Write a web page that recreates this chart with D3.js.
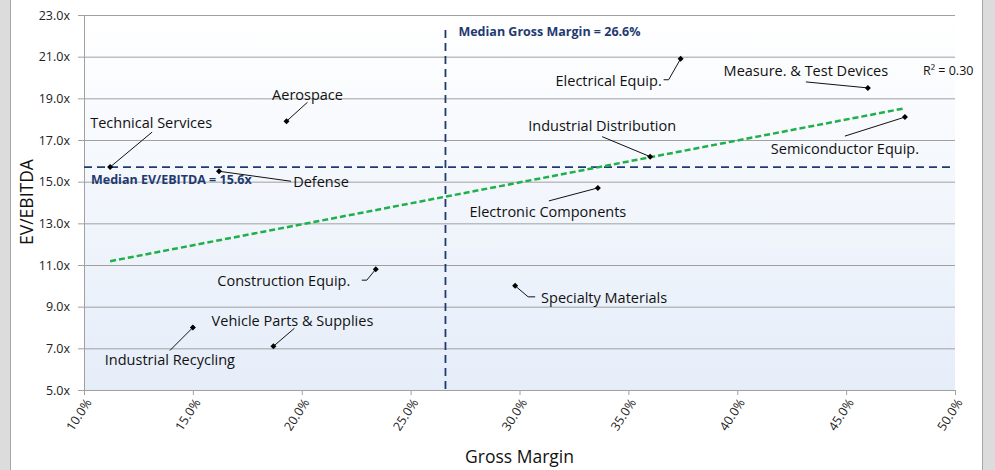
<!DOCTYPE html>
<html>
<head>
<meta charset="utf-8">
<script src="https://cdn.jsdelivr.net/npm/d3@7"></script>
<style>
  body { margin: 0; background: #fff; }
  text { font-family: "Open Sans", sans-serif; }
</style>
</head>
<body>
<svg width="995" height="470"></svg>
<script>
// sectors, gross margin (%) and EV/EBITDA (x)
var sectors = ["Technical Services", "Aerospace", "Defense", "Electrical Equip.",
  "Measure. & Test Devices", "Semiconductor Equip.", "Industrial Distribution",
  "Electronic Components", "Construction Equip.", "Specialty Materials",
  "Vehicle Parts & Supplies", "Industrial Recycling"];
var grossMargin = [11.2, 19.3, 16.2, 37.4, 46.0, 47.7, 36.0, 33.6, 23.4, 29.8, 18.7, 15.0];
var evEbitda = [15.7, 17.9, 15.5, 20.9, 19.5, 18.1, 16.2, 14.7, 10.8, 10.0, 7.1, 8.0];
var xTicks = [10, 15, 20, 25, 30, 35, 40, 45, 50];
var yTicks = [5, 7, 9, 11, 13, 15, 17, 19, 21, 23];
var medianGM = 26.6, medianEV = 15.6;

// label placement, pixel offsets from the point: text centre and leader path
var labelLayout = [
  { t: [41, -44], l: [[42, -35]] },
  { t: [21, -26], l: [[21, -19]] },
  { t: [102, 11], l: [[72, 10]] },
  { t: [-72, 22], l: [[-12, 21], [-17, 21]] },
  { t: [-62, -17], l: [[-62, -6]] },
  { t: [-60, 32], l: [[-60, 19]] },
  { t: [-48, -31], l: [[-48, -20]] },
  { t: [-50, 24], l: [[-49, 13]] },
  { t: [-92, 12], l: [[-9, 11], [-14, 11]] },
  { t: [89, 12], l: [[13, 11], [20, 11]] },
  { t: [19, -25], l: [[21, -18]] },
  { t: [-23, 32], l: [[-23, 23]] }
];

var svg = d3.select("svg");

// grey side panels
svg.append("rect").attr("x", 0).attr("y", 0).attr("width", 10).attr("height", 470).attr("fill", "#dcdcdc");
svg.append("line").attr("x1", 10.5).attr("x2", 10.5).attr("y1", 0).attr("y2", 470).attr("stroke", "#a6a6a6");
svg.append("rect").attr("x", 982).attr("y", 0).attr("width", 13).attr("height", 470).attr("fill", "#dcdcdc");
svg.append("line").attr("x1", 982.5).attr("x2", 982.5).attr("y1", 0).attr("y2", 470).attr("stroke", "#a6a6a6");

var x = d3.scaleLinear().domain([10, 50]).range([84, 955]);
var y = d3.scaleLinear().domain([5, 23]).range([390, 15]);

var grad = svg.append("defs").append("linearGradient")
    .attr("id", "bg").attr("x1", 0).attr("y1", 0).attr("x2", 0).attr("y2", 1);
grad.append("stop").attr("offset", "0%").attr("stop-color", "#ffffff");
grad.append("stop").attr("offset", "100%").attr("stop-color", "#e5edf9");

svg.append("rect")
    .attr("x", x(10)).attr("y", y(23))
    .attr("width", x(50) - x(10)).attr("height", y(5) - y(23))
    .attr("fill", "url(#bg)");

// gridlines
svg.append("g").selectAll("line").data(yTicks.slice(1)).enter().append("line")
    .attr("x1", x(10)).attr("x2", x(50))
    .attr("y1", function(d) { return y(d) + 0.5; }).attr("y2", function(d) { return y(d) + 0.5; })
    .attr("stroke", "#a0a0a0").attr("stroke-width", 1);

// axes
var yAxis = svg.append("g")
    .attr("transform", "translate(" + x(10) + ",0)")
    .call(d3.axisLeft(y).tickValues(yTicks).tickSize(6).tickPadding(8)
      .tickFormat(function(d) { return d.toFixed(1) + "x"; }));
yAxis.select(".domain").attr("stroke", "#a0a0a0");
yAxis.selectAll(".tick line").attr("stroke", "#a0a0a0");
yAxis.selectAll(".tick text").attr("font-size", "12.5px").attr("fill", "#222")
    .style("font-family", "'Open Sans', sans-serif");

var xAxis = svg.append("g")
    .attr("transform", "translate(0," + y(5) + ")")
    .call(d3.axisBottom(x).tickValues(xTicks).tickSize(5)
      .tickFormat(function(d) { return d.toFixed(1) + "%"; }));
xAxis.select(".domain").attr("stroke", "#a0a0a0");
xAxis.selectAll(".tick line").attr("stroke", "#a0a0a0");
xAxis.selectAll(".tick text")
    .attr("font-size", "12.5px").attr("fill", "#222")
    .style("font-family", "'Open Sans', sans-serif")
    .attr("text-anchor", "end")
    .attr("x", 0).attr("y", 0).attr("dy", "0.35em")
    .attr("transform", "translate(4,10) rotate(-57)");

// axis titles
svg.append("text")
    .attr("transform", "translate(33,202) rotate(-90)")
    .attr("text-anchor", "middle").attr("font-size", "17.5px").attr("fill", "#111")
    .text("EV/EBITDA");
svg.append("text")
    .attr("x", (x(10) + x(50)) / 2).attr("y", 463)
    .attr("text-anchor", "middle").attr("font-size", "17.5px").attr("fill", "#111")
    .text("Gross Margin");

// median lines
var navy = "#1f3a70";
svg.append("line")
    .attr("x1", x(10)).attr("x2", x(50)).attr("y1", y(medianEV) - 2).attr("y2", y(medianEV) - 2)
    .attr("stroke", navy).attr("stroke-width", 1.8).attr("stroke-dasharray", "8,5");
svg.append("line")
    .attr("x1", x(medianGM)).attr("x2", x(medianGM)).attr("y1", 30).attr("y2", y(5))
    .attr("stroke", navy).attr("stroke-width", 1.8).attr("stroke-dasharray", "8,5");
svg.append("text")
    .attr("x", 91).attr("y", y(medianEV) + 15)
    .attr("font-size", "12.5px").attr("font-weight", "bold").attr("fill", navy)
    .text("Median EV/EBITDA = " + medianEV.toFixed(1) + "x");
svg.append("text")
    .attr("x", x(medianGM) + 13).attr("y", 36)
    .attr("font-size", "12.5px").attr("font-weight", "bold").attr("fill", navy)
    .text("Median Gross Margin = " + medianGM.toFixed(1) + "%");

// least squares trendline
var mx = d3.mean(grossMargin), my = d3.mean(evEbitda);
var sxy = d3.sum(grossMargin, function(v, i) { return (v - mx) * (evEbitda[i] - my); });
var sxx = d3.sum(grossMargin, function(v) { return (v - mx) * (v - mx); });
var syy = d3.sum(evEbitda, function(v) { return (v - my) * (v - my); });
var slope = sxy / sxx, icpt = my - slope * mx;
var r2 = sxy * sxy / (sxx * syy);
var xr = d3.extent(grossMargin);
svg.append("line")
    .attr("x1", x(xr[0])).attr("y1", y(icpt + slope * xr[0]))
    .attr("x2", x(xr[1])).attr("y2", y(icpt + slope * xr[1]))
    .attr("stroke", "#1fb04a").attr("stroke-width", 2.5).attr("stroke-dasharray", "6,3");
svg.append("text")
    .attr("x", 923).attr("y", 75).attr("font-size", "12.5px").attr("fill", "#111")
    .text("R\u00b2 = " + r2.toFixed(2));

// points, leaders and labels
var pts = svg.append("g").selectAll("g").data(sectors).enter().append("g")
    .attr("transform", function(d, i) { return "translate(" + x(grossMargin[i]) + "," + y(evEbitda[i]) + ")"; });

pts.append("path")
    .attr("d", function(d, i) { return d3.line()([[0, 0]].concat(labelLayout[i].l)); })
    .attr("fill", "none").attr("stroke", "#111").attr("stroke-width", 1);
pts.append("path")
    .attr("d", d3.symbol(d3.symbolSquare, 18))
    .attr("transform", "rotate(45)")
    .attr("fill", "#000");
pts.append("text")
    .attr("x", function(d, i) { return labelLayout[i].t[0]; })
    .attr("y", function(d, i) { return labelLayout[i].t[1]; })
    .attr("dy", "0.35em").attr("text-anchor", "middle")
    .attr("font-size", "14.5px").attr("fill", "#111")
    .text(function(d) { return d; });
</script>
</body>
</html>
